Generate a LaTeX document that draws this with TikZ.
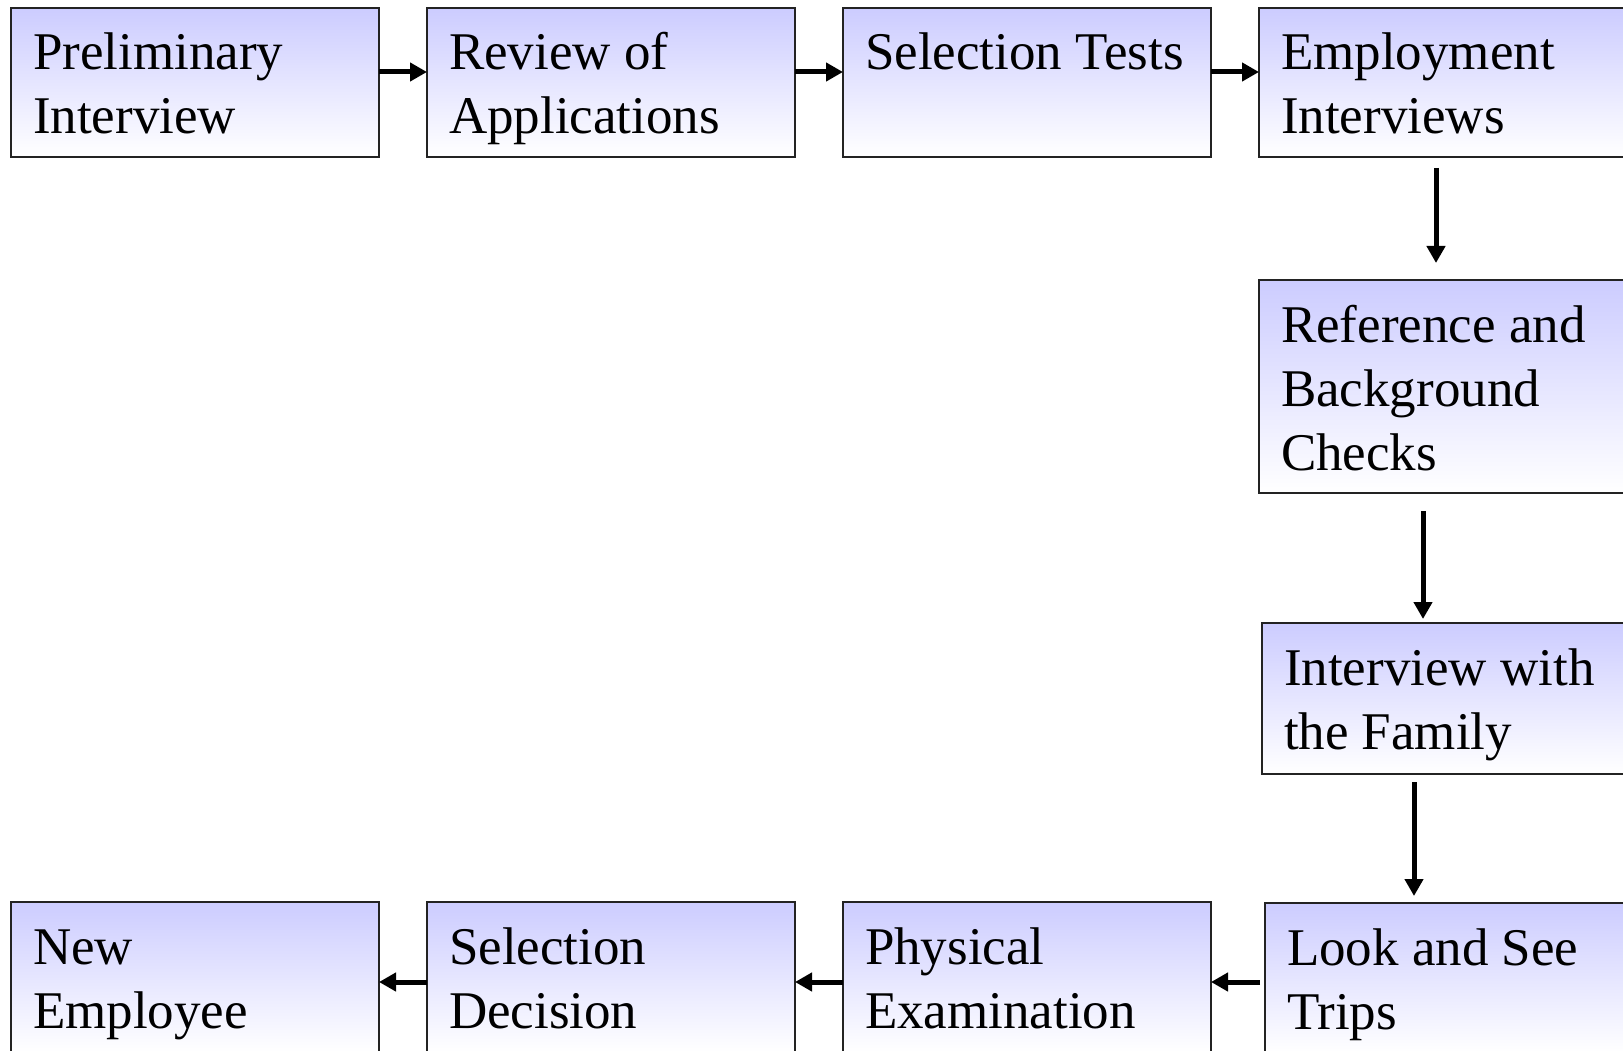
\documentclass[tikz,border=0pt]{standalone}
\usepackage{fontspec}
\setmainfont{Liberation Serif}
\usetikzlibrary{arrows.meta}
\definecolor{boxtop}{RGB}{204,204,255}
\definecolor{boxline}{RGB}{35,35,35}
\newcommand\bxt[2]{\begin{minipage}[c][#1][t]{368pt}\fontsize{53}{64}\selectfont\vspace*{17.2pt}\leftskip=22pt\relax\strut#2\end{minipage}}
\tikzset{
  box/.style={draw=boxline, line width=1.5pt, top color=boxtop, bottom color=white,
    inner sep=0pt, outer sep=0pt, anchor=north west},
  arr/.style={line width=5pt, -{Triangle[length=17pt,width=18pt]}, black}
}
\begin{document}
\begin{tikzpicture}[x=1pt,y=-1pt]
\useasboundingbox (0,0) rectangle (1623,1051);
\clip (0,0) rectangle (1623,1051);
\fill[white] (0,0) rectangle (1623,1051);
% top row
\node[box] (b1) at (11,8)   {\bxt{149pt}{Preliminary\\Interview}};
\node[box] (b2) at (427,8)  {\bxt{149pt}{Review of\\Applications}};
\node[box] (b3) at (843,8)  {\bxt{149pt}{Selection Tests}};
\node[box] (b4) at (1259,8) {\bxt{149pt}{Employment\\Interviews}};
% right column
\node[box] (b5) at (1259,280) {\bxt{213pt}{Reference and\\Background\\Checks}};
\node[box] (b6) at (1262,623) {\bxt{151pt}{Interview with\\the Family}};
\node[box] (b7) at (1265,903) {\bxt{150pt}{Look and See\\Trips}};
% bottom row
\node[box] (b8)  at (843,902) {\bxt{150pt}{Physical\\Examination}};
\node[box] (b9)  at (427,902) {\bxt{150pt}{Selection\\Decision}};
\node[box] (b10) at (11,902)  {\bxt{150pt}{New\\Employee}};
% connectors
\draw[arr] ([yshift=10.5pt]b1.east) -- ([yshift=10.5pt]b2.west);
\draw[arr] ([yshift=10.5pt]b2.east) -- ([yshift=10.5pt]b3.west);
\draw[arr] ([yshift=10.5pt]b3.east) -- ([yshift=10.5pt]b4.west);
\draw[arr, shorten <=11pt, shorten >=17pt] ([xshift=-7pt]b4.south) -- ([xshift=-7pt]b4.south |- b5.north);
\draw[arr, shorten <=18pt, shorten >=4pt] ([xshift=-20pt]b5.south) -- ([xshift=-20pt]b5.south |- b6.north);
\draw[arr, shorten <=8pt, shorten >=7pt] ([xshift=-32pt]b6.south) -- ([xshift=-32pt]b6.south |- b7.north);
\draw[arr, shorten <=5pt] ([yshift=-4pt]b7.west) -- ([yshift=-4pt]b7.west -| b8.east);
\draw[arr] ([yshift=-5pt]b8.west) -- ([yshift=-5pt]b8.west -| b9.east);
\draw[arr] ([yshift=-5pt]b9.west) -- ([yshift=-5pt]b9.west -| b10.east);
\end{tikzpicture}
\end{document}
